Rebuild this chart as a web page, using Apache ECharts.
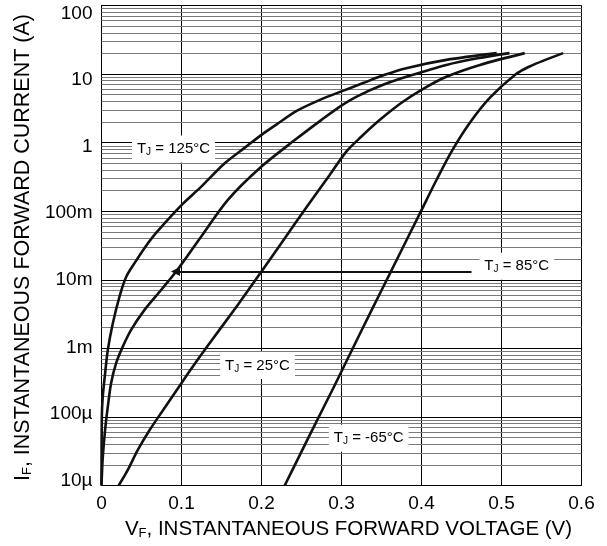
<!DOCTYPE html>
<html>
<head>
<meta charset="utf-8">
<script src="https://cdn.jsdelivr.net/npm/echarts@6/dist/echarts.min.js"></script>
<style>
  html, body { margin: 0; padding: 0; background: #fff; }
  #chart { width: 607px; height: 546px; }
</style>
</head>
<body>
<div id="chart"></div>
<script>
// forward voltage (V) / forward current (A)
const v125 = [0, 0.0004, 0.0016, 0.0045, 0.0079, 0.0141, 0.0225, 0.0308, 0.0413, 0.0541, 0.0688, 0.100, 0.125, 0.154, 0.180, 0.200, 0.219, 0.244, 0.273, 0.300, 0.327, 0.354, 0.381, 0.431, 0.494];
const i125 = [1e-5, 1.0e-4, 2.0e-4, 4.3e-4, 9.5e-4, 2.3e-3, 5.7e-3, 1.1e-2, 1.75e-2, 2.94e-2, 4.9e-2, 0.123, 0.23, 0.50, 0.86, 1.30, 1.85, 2.9, 4.2, 5.6, 7.4, 9.75, 12.2, 16.1, 20.2];

const v85 = [0, 0.0004, 0.0016, 0.0045, 0.0079, 0.012, 0.0183, 0.0266, 0.037, 0.0538, 0.0745, 0.0933, 0.1229, 0.158, 0.200, 0.242, 0.275, 0.298, 0.319, 0.352, 0.385, 0.431, 0.470, 0.510];
const i85 = [1e-5, 1.35e-5, 2.6e-5, 6.5e-5, 1.41e-4, 3.1e-4, 6.1e-4, 1.06e-3, 1.86e-3, 3.64e-3, 7.1e-3, 1.32e-2, 4.0e-2, 0.1465, 0.448, 1.10, 2.15, 3.36, 4.70, 6.97, 9.42, 13.6, 17.0, 20.2];

const v25 = [0.0215, 0.0329, 0.0454, 0.0604, 0.0788, 0.0954, 0.112, 0.133, 0.171, 0.200, 0.225, 0.258, 0.285, 0.306, 0.325, 0.348, 0.375, 0.400, 0.431, 0.473, 0.529];
const i25 = [1e-5, 1.69e-5, 3.3e-5, 6.5e-5, 1.35e-4, 2.6e-4, 5.0e-4, 1.1e-3, 4.4e-3, 1.32e-2, 3.45e-2, 0.1225, 0.335, 0.741, 1.23, 2.15, 3.81, 5.89, 9.12, 13.6, 20.2];

const vm65 = [0.229, 0.248, 0.269, 0.2895, 0.310, 0.3395, 0.360, 0.375, 0.398, 0.419, 0.4375, 0.460, 0.485, 0.517, 0.535, 0.577];
const im65 = [1e-5, 2.8e-5, 8.7e-5, 2.6e-4, 8.0e-4, 4.0e-3, 1.2e-2, 2.7e-2, 9.3e-2, 0.29, 0.741, 1.92, 4.46, 9.75, 12.9, 20.2];

const yTickLabels = ['10µ', '100µ', '1m', '10m', '100m', '1', '10', '100'];

// curve labels: temperature, position (V, A)
const noteTemps = ['125°C', '85°C', '25°C', '-65°C'];
const noteV = [0.090, 0.519, 0.195, 0.334];
const noteI = [0.81, 0.0158, 5.6e-4, 4.9e-5];

// arrow for the 85°C label
const arrowI = 0.0132;
const arrowFromV = 0.4625;
const arrowToV = 0.0925;

const FONT = '"Liberation Sans", Arial, sans-serif';

const pairs = (xs, ys) => xs.map((x, k) => [x, ys[k]]);

// minor log grid lines 2..9 in every decade
const minorLines = [];
for (let e = -5; e < 2; e++) {
    for (let m = 2; m <= 9; m++) {
        minorLines.push({ yAxis: m * Math.pow(10, e) });
    }
}

const curve = (name, xs, ys) => ({
    name: name,
    type: 'line',
    data: pairs(xs, ys),
    showSymbol: false,
    smooth: 0.3,
    lineStyle: { color: '#111', width: 2.6 },
    z: 5,
    animation: false
});

// small per-label vertical nudges (labels in the original drift from the gridlines)
const yRich = {};
yTickLabels.forEach((t, k) => {
    const d = Math.round(7.5 - (7 - k) * 1.8);
    yRich['r' + k] = {
        fontSize: 19, color: '#000', fontFamily: FONT,
        padding: d >= 0 ? [2 * d, 0, 0, 0] : [0, 0, -2 * d, 0]
    };
});

const titleRich = (size) => ({
    n: { fontSize: size, color: '#000', fontFamily: FONT, lineHeight: 22 },
    s: { fontSize: 13, color: '#000', fontFamily: FONT, lineHeight: 12, verticalAlign: 'bottom' }
});

const chart = echarts.init(document.getElementById('chart'), null, { renderer: 'canvas' });

chart.setOption({
    animation: false,
    backgroundColor: '#fff',
    textStyle: { fontFamily: FONT },
    grid: { left: 101.5, top: 5.5, width: 480, height: 480, containLabel: false },
    xAxis: {
        type: 'value',
        min: 0,
        max: 0.6,
        interval: 0.1,
        name: '{n|V}{s|F}{n|, INSTANTANEOUS FORWARD VOLTAGE (V)}',
        nameLocation: 'middle',
        nameGap: 29,
        nameTextStyle: { padding: [0, 0, 0, 14], rich: titleRich(20.5) },
        axisLine: { lineStyle: { color: '#000', width: 1 } },
        axisTick: { show: false },
        axisLabel: {
            fontSize: 19, color: '#000', fontFamily: FONT, margin: 9,
            formatter: v => v === 0 ? '0' : v.toFixed(1)
        },
        splitLine: { show: true, lineStyle: { color: '#000', width: 1 } }
    },
    yAxis: {
        type: 'log',
        logBase: 10,
        min: 1e-5,
        max: 100,
        splitNumber: 7,
        name: '{n|I}{s|F}{n|, INSTANTANEOUS FORWARD CURRENT (A)}',
        nameLocation: 'middle',
        nameGap: 66,
        nameTextStyle: { padding: [0, 4, 0, 0], rich: titleRich(21.5) },
        axisLine: { show: true, lineStyle: { color: '#000', width: 1 } },
        axisTick: { show: false },
        axisLabel: {
            margin: 9,
            formatter: v => {
                const k = Math.round(Math.log10(v)) + 5;
                return '{r' + k + '|' + yTickLabels[k] + '}';
            },
            rich: yRich
        },
        splitLine: { show: true, lineStyle: { color: '#000', width: 1 } }
    },
    series: [
        {
            name: 'grid',
            type: 'line',
            data: [],
            silent: true,
            z: 1,
            markLine: {
                silent: true,
                symbol: 'none',
                precision: 12,
                animation: false,
                label: { show: false },
                lineStyle: { color: '#7a7a7a', width: 1, type: 'solid' },
                data: minorLines
            }
        },
        curve('125', v125, i125),
        curve('85', v85, i85),
        curve('25', v25, i25),
        curve('-65', vm65, im65),
        {
            name: 'notes',
            type: 'line',
            data: [],
            z: 10,
            markLine: {
                silent: true,
                animation: false,
                precision: 12,
                symbol: ['none', 'triangle'],
                symbolSize: 9,
                label: { show: false },
                lineStyle: { color: '#111', width: 2, type: 'solid' },
                data: [[
                    { coord: [arrowFromV, arrowI] },
                    { coord: [arrowToV, arrowI] }
                ]]
            },
            markPoint: {
                silent: true,
                animation: false,
                symbol: 'rect',
                symbolSize: 1,
                itemStyle: { color: 'rgba(0,0,0,0)' },
                label: {
                    show: true,
                    position: 'inside',
                    backgroundColor: '#fff',
                    padding: [5, 5, 5, 5],
                    formatter: p => '{t|T}{s|J}{t| = ' + p.name + '}',
                    rich: {
                        t: { fontSize: 15, color: '#000', fontFamily: FONT, lineHeight: 17 },
                        s: { fontSize: 10, color: '#000', fontFamily: FONT, lineHeight: 10, verticalAlign: 'bottom' }
                    }
                },
                data: noteTemps.map((t, k) => ({ name: t, coord: [noteV[k], noteI[k]] }))
            }
        }
    ]
});
</script>
</body>
</html>
